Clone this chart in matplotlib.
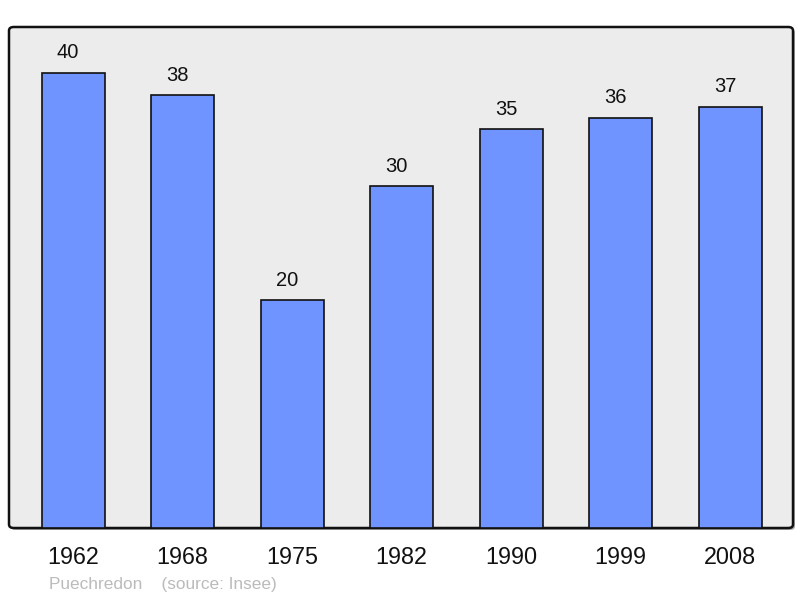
import matplotlib
matplotlib.use("Agg")
import matplotlib.pyplot as plt
from matplotlib.patches import FancyBboxPatch

years = ["1962", "1968", "1975", "1982", "1990", "1999", "2008"]
population = [40, 38, 20, 30, 35, 36, 37]

plt.rcParams['font.family'] = ['Liberation Sans', 'DejaVu Sans']

W, H = 800, 598
fig = plt.figure(figsize=(W / 100, H / 100), dpi=100)
L, R, T, B = 9, 793, 27, 528
ax = fig.add_axes([L / W, 1 - B / H, (R - L) / W, (B - T) / H])
ax.set_facecolor('none')

# frame with rounded corners + light shadow
shadow = FancyBboxPatch((L / W + 2 / W, 1 - B / H - 2 / H), (R - L) / W, (B - T) / H,
                        boxstyle="round,pad=0,rounding_size=0.006", transform=fig.transFigure,
                        facecolor='#aaaaaa', edgecolor='none', zorder=-3)
frame = FancyBboxPatch((L / W, 1 - B / H), (R - L) / W, (B - T) / H,
                       boxstyle="round,pad=0,rounding_size=0.006", transform=fig.transFigure,
                       facecolor='#ececec', edgecolor='#111111', linewidth=1.8, zorder=-2)
fig.patches.extend([shadow, frame])

x = list(range(len(years)))
ax.bar(x, population, width=0.575, color='#7094ff', edgecolor='#111111', linewidth=1.2, zorder=2)
for xi, v in zip(x, population):
    ax.annotate(str(v), (xi, v), xytext=(-3.6, 14.5), textcoords='offset points',
                ha='center', va='center', fontsize=14.5, color='#111111')

ax.set_xlim(-0.585, 6.575)
ax.set_ylim(0, 44)
for s in ax.spines.values():
    s.set_visible(False)
ax.set_yticks([])
ax.set_xticks(x)
ax.set_xticklabels(years, fontsize=16.8, color='#111111')
ax.tick_params(axis='x', length=0, pad=13)

fig.text(49 / W, 1 - 584 / H, "Puechredon    (source: Insee)", fontsize=12.4,
         color='#bbbbbb', ha='left', va='center')

fig.savefig("out.png", dpi=100, facecolor='white')
